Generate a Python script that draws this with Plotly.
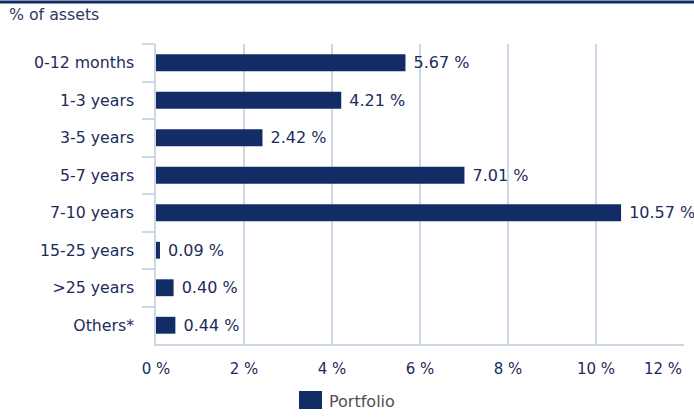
import plotly.graph_objects as go

categories = ["0-12 months", "1-3 years", "3-5 years", "5-7 years", "7-10 years",
              "15-25 years", ">25 years", "Others*"]
portfolio = [5.67, 4.21, 2.42, 7.01, 10.57, 0.09, 0.40, 0.44]
x_ticks = [0, 2, 4, 6, 8, 10, 12]
x_tick_labels = ["0 %", "2 %", "4 %", "6 %", "8 %", "10 %", "12 %"]
series_name = "Portfolio"

NAVY = "#122d66"
TEXT = "#1c2c5a"
GRID = "#cdd6e4"

W, H = 694, 417
ML, MR, MT, MB = 156, 10, 44, 73
PW = W - ML - MR
PH = H - MT - MB


def px_x(px):
    return (px - ML) / PW


def px_y(py):
    return (MT + PH - py) / PH


fig = go.Figure()
fig.add_trace(go.Bar(
    y=categories, x=portfolio, orientation="h", name=series_name,
    marker=dict(color=NAVY, line=dict(width=0)),
    text=[f" {v:.2f} %" for v in portfolio], textposition="outside",
    constraintext="none",
    textfont=dict(color=TEXT, size=16, family="DejaVu Sans"),
    cliponaxis=False, showlegend=False,
))

tickfont_x = dict(size=15, color=TEXT, family="DejaVu Sans")
fig.update_layout(
    width=W, height=H,
    margin=dict(l=ML, r=MR, t=MT, b=MB, autoexpand=False),
    paper_bgcolor="white", plot_bgcolor="white",
    font=dict(family="DejaVu Sans", size=14, color=TEXT),
    bargap=0.55,
    showlegend=False,
    xaxis=dict(range=[0, 12], tickvals=x_ticks, ticktext=x_tick_labels[:-1] + [""],
               automargin=False,
               showgrid=True, gridcolor=GRID, gridwidth=1.5,
               zeroline=False, showline=True, linecolor=GRID, linewidth=1.5,
               ticks="", ticklabelstandoff=10, tickfont=tickfont_x),
    yaxis=dict(categoryorder="array", categoryarray=categories, autorange="reversed",
               automargin=False,
               showline=True, linecolor=GRID, linewidth=1.5,
               ticks="outside", tickson="boundaries", ticklen=12, tickcolor=GRID,
               tickwidth=1.5, showgrid=False, ticklabelstandoff=17,
               tickfont=dict(size=15.75, color=TEXT)),
)

# last tick label sits left of its gridline, as in the original
fig.add_annotation(text=x_tick_labels[-1], xref="x", yref="paper",
                   x=x_ticks[-1], y=px_y(369), xanchor="right", yanchor="middle",
                   showarrow=False, font=tickfont_x)

# top rule and title
fig.add_shape(type="line", xref="paper", yref="paper",
              x0=px_x(0), x1=px_x(W), y0=px_y(2), y1=px_y(2),
              line=dict(color=NAVY, width=3))
fig.add_annotation(text="% of assets", xref="paper", yref="paper",
                   x=px_x(7), y=px_y(15), xanchor="left", yanchor="middle",
                   showarrow=False,
                   font=dict(size=15.75, color="#2a3a66", family="DejaVu Sans"))

# legend
fig.add_shape(type="rect", xref="paper", yref="paper",
              x0=px_x(299), x1=px_x(322), y0=px_y(391), y1=px_y(409),
              line=dict(width=0), fillcolor=NAVY)
fig.add_annotation(text=series_name, xref="paper", yref="paper",
                   x=px_x(327), y=px_y(401), xanchor="left", yanchor="middle",
                   showarrow=False,
                   font=dict(size=16, color="#505050", family="DejaVu Sans"))

fig.write_html("out.html", config={"displayModeBar": False},
               post_script="document.body.style.margin='0';")
